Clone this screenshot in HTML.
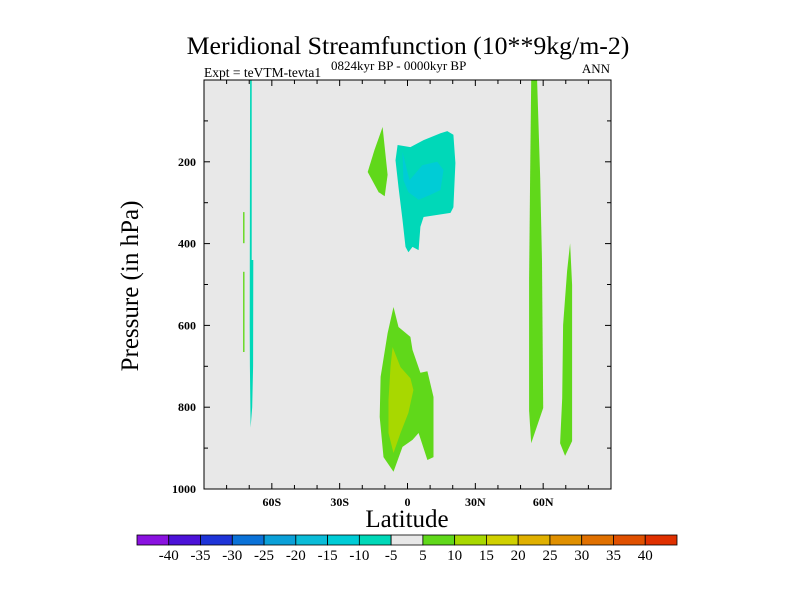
<!DOCTYPE html>
<html><head><meta charset="utf-8"><style>
body{margin:0;background:#fff;width:800px;height:600px;overflow:hidden}
svg{display:block}
text{font-family:"Liberation Serif",serif;fill:#000}
</style></head><body>
<svg id="chart" width="800" height="600" xmlns="http://www.w3.org/2000/svg">
<text x="408" y="54" font-size="25.8" text-anchor="middle">Meridional Streamfunction (10**9kg/m-2)</text>
<text x="204" y="77" font-size="13.5">Expt = teVTM-tevta1</text>
<text x="331" y="70" font-size="13">0824kyr BP - 0000kyr BP</text>
<text x="610" y="73" font-size="13" text-anchor="end">ANN</text>
<rect x="204" y="80" width="407" height="409" fill="#e8e8e8"/>
<g id="fills"></g>
<rect x="204" y="80" width="407" height="409" fill="none" stroke="#000" stroke-width="1"/>
<g id="axes"></g>
<text x="407" y="527" font-size="25" text-anchor="middle">Latitude</text>
<text transform="translate(138,286) rotate(-90)" font-size="25" text-anchor="middle">Pressure (in hPa)</text>
<g id="colorbar"></g>
</svg>
<script>
const latTicks=[-60,-30,0,30,60];
const latTickLabels=["60S","30S","0","30N","60N"];
const presTicks=[200,400,600,800,1000];
const levelLabels=["-40","-35","-30","-25","-20","-15","-10","-5","5","10","15","20","25","30","35","40"];
const levelColors=["#8a12e0","#4c12d8","#1e34d8","#0a72d8","#0aa0d8","#0abcd8","#00ccd6","#00d8b8","#e8e8e8","#60d81a","#a8d800","#d0d000","#e0b000","#e09000","#e07000","#e05000","#e03000"];
// contour regions: level index into levelColors, points [lat, pressure]
const regionLevels=[9,7,6,9,10,9,9,7,9,9];
const regionA=[[-11,115],[-8.8,232],[-10.1,284],[-12.8,274],[-17.6,225],[-14.6,171]];
const regionB=[[-4.4,159],[1.3,164],[7.1,147],[14.6,130],[17.6,125],[20.3,134],[21.2,203],[20.3,311],[19,325],[7.1,335],[5.7,359],[4.9,416],[2.2,408],[0.4,421],[-0.9,408],[-2.2,342],[-4,262],[-5.3,196]];
const regionC=[[-2.2,176],[0.9,245],[6.6,208],[13.2,200],[15.9,220],[14.6,269],[10.1,281],[4.9,293],[0.4,274],[-1.8,245]];
const regionD=[[-6.2,555],[-4,604],[1.3,628],[2.2,660],[5.7,716],[8.8,712],[11.5,775],[11.5,922],[8.8,929],[4.9,863],[2.2,880],[-2.2,897],[-6.2,958],[-10.6,922],[-12.3,824],[-11.9,726],[-8.8,619]];
const regionE=[[-6.6,653],[-3.1,702],[1.3,729],[2.6,758],[0.4,814],[-3.1,863],[-6.2,912],[-8.4,863],[-8.4,782],[-7.5,702]];
const regionF=[[54.7,0],[57.3,0],[58.7,240],[59.5,443],[60,802],[54.7,888],[53.8,809],[53.8,484],[54.2,240]];
const regionG=[[71.9,399],[72.8,501],[72.8,883],[69.7,919],[67.5,888],[68.4,778],[68.8,599],[70.6,467]];
const regionH=[[-69.6,0],[-68.9,0],[-68.9,440],[-68.2,440],[-68.3,700],[-68.7,800],[-69.4,850],[-69.7,700],[-69.8,600]];
const regionI=[[-72.7,323],[-72.1,323],[-72.1,399],[-72.7,399]];
const regionJ=[[-72.7,469],[-72.1,469],[-72.1,665],[-72.7,665]];
const regions=[regionA,regionB,regionC,regionD,regionE,regionF,regionG,regionH,regionI,regionJ];

const NS="http://www.w3.org/2000/svg";
const X0=204,X1=611,Y0=80,Y1=489;
function xs(lat){return X0+(lat+90)/180*(X1-X0);}
function ys(p){return Y0+p/1000*(Y1-Y0);}
function mk(tag,attrs,parent){const e=document.createElementNS(NS,tag);for(const k in attrs)e.setAttribute(k,attrs[k]);parent.appendChild(e);return e;}

const fills=document.getElementById('fills');
regions.forEach((r,i)=>{
  const pts=r.map(q=>xs(q[0]).toFixed(1)+","+ys(q[1]).toFixed(1)).join(" ");
  const pg=mk('polygon',{points:pts,fill:levelColors[regionLevels[i]]},fills);
  
  
});

const axes=document.getElementById('axes');
for(let lat=-80;lat<=80;lat+=10){
  const major=lat%30===0;const L=major?6:4;
  const t1=mk('line',{x1:xs(lat),x2:xs(lat),y1:Y1,y2:Y1-L,stroke:'#000'},axes);
  
  
  const t2=mk('line',{x1:xs(lat),x2:xs(lat),y1:Y0,y2:Y0+L,stroke:'#000'},axes);
  
  
}
latTicks.forEach((lat,i)=>{
  const t=mk('text',{x:xs(lat),y:Y1+17,'font-size':12,'font-weight':'bold','text-anchor':'middle'},axes);
  t.textContent=latTickLabels[i];
  
  
});
for(let p=100;p<1000;p+=100){
  const major=p%200===0;const L=major?6:4;
  const t1=mk('line',{x1:X0,x2:X0+L,y1:ys(p),y2:ys(p),stroke:'#000'},axes);
  
  
  const t2=mk('line',{x1:X1,x2:X1-L,y1:ys(p),y2:ys(p),stroke:'#000'},axes);
  
  
}
presTicks.forEach(p=>{
  const t=mk('text',{x:X0-8,y:ys(p)+4,'font-size':12,'font-weight':'bold','text-anchor':'end'},axes);
  t.textContent=p;
  
  
});

const cb=document.getElementById('colorbar');
const CBX=137,CBY=535,CBW=540/17,CBH=10;
levelColors.forEach((c,i)=>{
  const r=mk('rect',{x:CBX+i*CBW,y:CBY,width:CBW,height:CBH,fill:c,stroke:'#000','stroke-width':0.8},cb);
  
  
});
levelLabels.forEach((l,i)=>{
  const t=mk('text',{x:CBX+(i+1)*CBW,y:CBY+25,'font-size':15,'text-anchor':'middle'},cb);
  t.textContent=l;
  
  
});
</script>
</body></html>
